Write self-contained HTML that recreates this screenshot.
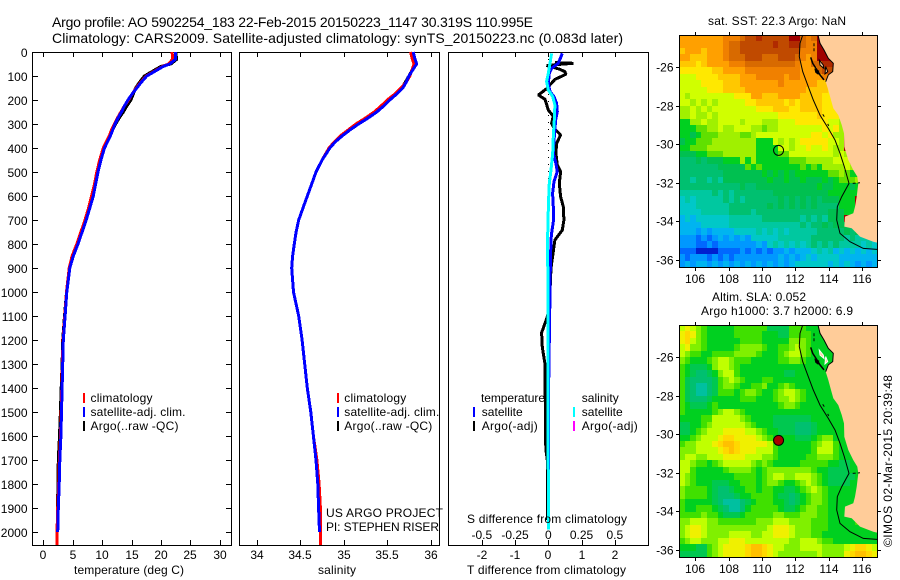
<!DOCTYPE html>
<html lang="en">
<head>
<meta charset="utf-8">
<title>Argo profile 5902254_183</title>
<style>
html,body{margin:0;padding:0;background:#fff;}
svg{display:block;}
text{font-family:"Liberation Sans",sans-serif;font-size:12px;fill:#000;}
.title{font-size:14px;}
</style>
</head>
<body>
<svg id="fig" xmlns="http://www.w3.org/2000/svg" width="900" height="580" viewBox="0 0 900 580">
<rect x="0" y="0" width="900" height="580" fill="#fff"/>
<text class="title" x="52" y="27" textLength="481">Argo profile: AO 5902254_183 22-Feb-2015 20150223_1147 30.319S 110.995E</text>
<text class="title" x="52" y="43" textLength="571">Climatology: CARS2009. Satellite-adjusted climatology: synTS_20150223.nc (0.083d later)</text>
<g id="maps"></g>
<g id="profiles"></g>

<text x="74" y="574" textLength="110">temperature (deg C)</text>
<text x="318" y="574" textLength="38">salinity</text>
<text x="467" y="574" textLength="159">T difference from climatology</text>
<text x="467" y="523" textLength="160">S difference from climatology</text>

<g>
<rect x="83" y="393" width="2" height="10" fill="#f00"/>
<rect x="83" y="407" width="2" height="10" fill="#00f"/>
<rect x="83" y="421" width="2" height="10" fill="#000"/>
<text x="90.5" y="402" textLength="62">climatology</text>
<text x="90.5" y="416" textLength="95">satellite-adj. clim.</text>
<text x="90.5" y="430" textLength="88">Argo(..raw -QC)</text>
</g>
<g>
<rect x="337" y="393" width="2" height="10" fill="#f00"/>
<rect x="337" y="407" width="2" height="10" fill="#00f"/>
<rect x="337" y="421" width="2" height="10" fill="#000"/>
<text x="344.3" y="402" textLength="62">climatology</text>
<text x="344.3" y="416" textLength="95">satellite-adj. clim.</text>
<text x="344.3" y="430" textLength="88">Argo(..raw -QC)</text>
<text x="326" y="517" textLength="117">US ARGO PROJECT</text>
<text x="326" y="531" textLength="113">PI: STEPHEN RISER</text>
</g>
<g>
<text x="481" y="402" textLength="64">temperature</text>
<rect x="473" y="407" width="2" height="10" fill="#00f"/>
<rect x="473" y="421" width="2" height="10" fill="#000"/>
<text x="481.7" y="416" textLength="41">satellite</text>
<text x="481.7" y="430" textLength="56">Argo(-adj)</text>
<text x="581.7" y="402" textLength="37">salinity</text>
<rect x="573" y="407" width="2" height="10" fill="#0ff"/>
<rect x="573" y="421" width="2" height="10" fill="#f0f"/>
<text x="581.7" y="416" textLength="41">satellite</text>
<text x="581.7" y="430" textLength="56">Argo(-adj)</text>
</g>

<text x="708" y="25" textLength="138">sat. SST: 22.3 Argo: NaN</text>
<text x="712" y="301" textLength="94">Altim. SLA: 0.052</text>
<text x="701" y="315" textLength="152">Argo h1000: 3.7 h2000: 6.9</text>
<text transform="translate(892,547) rotate(-90)" x="0" y="0" textLength="172">©IMOS 02-Mar-2015 20:39:48</text>
</svg>

<script>
// ---------- profile data ----------
const depths = [0,30,50,60,100,125,150,175,200,225,250,275,300,325,350,375,400,450,500,550,600,650,700,750,800,850,900,1000,1100,1200,1300,1400,1500,1600,1700,1800,1900,2000,2054];
const tempArgo = [22.5,22.7,21.7,20.0,17.2,16.4,15.7,15.3,14.9,14.2,13.6,12.9,12.3,11.8,11.3,10.8,10.3,9.7,9.2,8.8,8.3,7.8,7.2,6.5,5.8,5.0,4.4,3.95,3.6,3.3,3.2,3.05,2.9,2.75,2.55,2.5,2.4];
const tempClim = [21.9,22.0,21.3,20.3,17.5,16.6,15.8,15.1,14.5,13.8,13.2,12.6,12.1,11.6,11.2,10.7,10.2,9.6,9.1,8.7,8.2,7.7,7.1,6.4,5.7,4.9,4.4,3.95,3.65,3.35,3.25,3.15,3.05,2.92,2.72,2.62,2.45,2.33,2.33];
const tempSat = [22.5,22.5,21.5,20.4,17.6,16.7,15.9,15.1,14.4,13.8,13.3,12.7,12.2,11.8,11.4,10.9,10.4,9.8,9.3,8.9,8.5,7.9,7.3,6.6,5.9,5.1,4.5,4.0,3.7,3.4,3.3,3.2,3.1,3.0,2.8,2.7,2.55,2.45];
const salArgo = [35.80,35.82,35.83,35.81,35.75,35.71,35.67,35.60,35.52,35.45,35.37,35.27,35.16,35.06,34.97,34.90,34.84,34.75,34.68,34.63,34.58,34.53,34.48,34.45,34.43,34.41,34.40,34.42,34.48,34.52,34.55,34.58,34.62,34.65,34.68,34.70,34.71];
const salClim = [35.77,35.79,35.81,35.80,35.76,35.72,35.66,35.59,35.50,35.43,35.35,35.25,35.14,35.05,34.96,34.89,34.83,34.75,34.68,34.63,34.58,34.53,34.48,34.45,34.43,34.41,34.40,34.42,34.48,34.52,34.55,34.58,34.62,34.65,34.69,34.715,34.73,34.73,34.73];
const salSat = [35.80,35.82,35.84,35.82,35.75,35.72,35.68,35.61,35.53,35.46,35.38,35.28,35.17,35.07,34.98,34.90,34.84,34.75,34.68,34.63,34.58,34.53,34.48,34.45,34.43,34.41,34.40,34.42,34.48,34.52,34.55,34.58,34.62,34.65,34.68,34.70,34.71,34.72];

const tDiffSatDepths = [6,47,68,89,130,165,186,214,249,283,325,367,422,464,499,540,589,644,707,756,783,900,1000,1200,1400,1600,1800,1990];
const tDiffSat = [.42,.30,.10,.03,0,.05,.17,.25,.27,.22,.20,.17,.15,.23,.27,.17,.13,.15,.15,.10,.08,.06,.05,.03,.01,.01,0,0];
const sDiffSatDepths = [6,47,89,123,158,186,221,283,353,422,492,547,617,700,783,1000,1400,1800,1990];
const sDiffSat = [.025,.0125,0,-.0125,0,.033,.05,.045,.0375,.033,.02,.0075,.0025,-.0025,-.005,-.003,-.002,0,0];
const tDiffArgoDepths = [44,47,56,64,72,82,93,114,137,151,179,197,228,242,267,297,318,346,381,422,471,499,547,603,644,700,742,783,900,1000,1100,1170,1230,1300,1400,1500,1600,1660,1700,1950];
const tDiffArgo = [.2,.75,-.05,.15,.35,.5,.53,.2,.05,-.03,-.3,-.1,-.03,0,.15,.1,.17,.37,.25,.23,.27,.37,.33,.37,.45,.47,.42,.2,.08,.05,-.02,-.2,-.18,-.1,-.1,-.08,-.09,-.07,-.03,-.02];

// ---------- axis tick values ----------
const depthTicks = [0,100,200,300,400,500,600,700,800,900,1000,1100,1200,1300,1400,1500,1600,1700,1800,1900,2000];
const tempTicks = [0,5,10,15,20,25,30];
const salTicks = [34,34.5,35,35.5,36];
const tDiffTicks = [-2,-1,0,1,2];
const sDiffTicks = [-0.5,-0.25,0,0.25,0.5];
const lonTicks = [106,108,110,112,114,116];
const latTicks = [-26,-28,-30,-32,-34,-36];

// ---------- map data (lon/lat degrees, grid = palette index per cell, north to south) ----------
const floatLon = 110.995;
const floatLat = -30.319;
const coastLon = [113.36,113.48,113.72,113.98,114.28,114.24,113.98,113.82,113.98,114.14,114.28,114.58,114.78,114.92,114.94,115.18,115.48,115.72,115.78,115.68,115.58,115.48,114.98,114.94,115.38,115.88,116.68,116.9];
const coastLat = [-24.34,-24.77,-25.12,-25.55,-25.81,-26.24,-26.41,-26.76,-27.19,-27.71,-28.14,-28.49,-29.0,-29.44,-30.13,-30.82,-31.34,-31.68,-32.03,-32.72,-33.24,-33.58,-33.75,-34.27,-34.36,-34.79,-35.05,-35.10];
const isobathLon = [112.44,112.28,112.24,112.44,112.78,113.08,113.48,113.98,114.38,114.68,114.94,115.22,114.78,114.52,114.48,114.68,115.28,116.08,116.9];
const isobathLat = [-24.34,-24.77,-25.46,-26.24,-27.02,-27.71,-28.49,-29.18,-29.78,-30.47,-31.16,-32.03,-32.72,-33.24,-33.93,-34.62,-35.05,-35.40,-35.45];
const islandLon = [[113.44,113.68,113.72,113.48],[113.82,113.94,113.78]];
const islandLat = [[-25.64,-25.90,-26.07,-25.90],[-25.98,-26.24,-26.36]];
const bayLineLon = [112.92,113.04,113.24,113.48,113.72];
const bayLineLat = [-25.5,-25.81,-26.07,-26.41,-26.67];
const bayBlobLon = [113.14,113.44,113.38,113.2];
const bayBlobLat = [-26.07,-26.19,-26.41,-26.29];
const dashLon = [[113.12,113.12],[113.64,113.74],[113.94,114.0],[115.44,115.88]];
const dashLat = [[-24.77,-25.2],[-28.45,-28.57],[-28.95,-29.05],[-32.03,-32.0]];

const sstGrid = [
"eeeeeeee fff g hh i hhhhh jj gfg jjjjjjjjjjj",
"eeeeeeee f gg hhhhhh i hh ii g ff jjjjjjjjjjj",
"deeedeee f gg hhhhhhhhhhh fff jjjjjjjjjjj",
"eedddeee f ggg hhh ggg hhh g f e f jjjjjjjjjjj",
"dddcd eeee fff ggggggggg f ee gg ii jjjjjjjj",
"cccccc dd eeee ffffffffff eee g hh jjjjjjjj",
"bbb cccc dddd eee fffff e ff eeee ff jjjjjjjj",
"bbbb cccc ddd eeeeeee f eeeeee ddd jjjjjjjj",
"bbbbb ccc dddd eeeeeeeeeee dddd c jjjjjjjj",
"ba bbbbbbbb ccc ee ddd eeee dddd ccc jjjjjjj",
"bbababab bbbb cc ddddd c d c dddd ccc jjjjjjj",
"aababab bbbbbbb ccc ddd cc dddd ccc b jjjjjj",
"aabaabab bbbbbbbbbb ccccccc d ccc b jjjjjj",
"88 aabaab bbb a bbb aaa bbb cccccc bb a jjjjjj",
"888 99 aab aab bb aa 9 aa bbbbbbbb cb c a jjjjjj",
"8878 999 aaaa 99 a bbbbbbbbbb ccbc aa jjjjjj",
"788 999 aaaaaaaa 888 babab ccccc bb a jjjjjj",
"88 999 aaaa aaaaa 8888 bbab bcbbcb aa jjjjjj",
"777 88 999 aaaaaa 8888 99 bbbbbbb bab a jjjjj",
"66676 777 888 a8a8 88888 999 aaaaa bbb jjjjj",
"6666666 77777 989 888888 89898 aaaa ba jjjj",
"66666666 777777 7878787 888888 99a9 88 jjj",
"66566565 7777777 7877877877787 899 9a jjj",
"6666666 6666766 7777777 7777877 888 78 jjj",
"55555 56565 6666666 7777777777 8888 88 jjj",
"454 55555 65656 66666 76767676 777 888 jjjj",
"444 555555 666666 6767676767 6666 888 jjjj",
"4444 55555 666656 6666 66666666 777 88 jjjj",
"3434 44444 555555 6666666 56565 777 jjjjjj",
"3333 44444 55555 5555555 5656 6767 77 jjjjj",
"333 2323 333 4444 5454545 5555 66666 767 jjj",
"22 21212 323232 44444 555555 66666 6565 55j",
"222 1121 222222 232 4545454 565656 5555 454",
"111 0000 1111 2121212 232 333 4545 34343434",
"21 22212 1212 222222 23232 343 4444 3333333",
"2323 32323232323232323 44444 43434 32323"
];
const slaGrid = [
"67654 33333 444444 2222 444 33 33333333333",
"78754 33333 44444 33322 4444 3 33333333333",
"78654 33333 34444 33333 5554 3 33333333333",
"67554 33333 45555 43344 5654 3 33333333333",
"65443 34444 55554 33345 6654 3 33333333333",
"54333 45665 44433 33344 5543 3 33333333333",
"43222 35665 43333 33333 3333 3 33333333333",
"43211 23566 43333 33332 2333 3 33333333333",
"42111 12456 54333 44333 3333 3 33333333333",
"42100 12455 43344 53345 4333 3 33333333333",
"42100 12444 34554 33456 6543 3 33333333333",
"42111 23333 34443 33455 6543 33 3333333333",
"43222 34333 33333 33345 5433 33 3333333333",
"43333 34566 54333 33333 3333 3333 33333333",
"33334 46666 65433 33222 2222 3333 33333333",
"22334 56666 66543 33222 2111 2333 33333333",
"22345 66677 77665 43322 2111 2333 33333333",
"33456 66788 77776 54333 3222 3455 33 333333",
"45566 67899 87777 76433 3333 4566 43 333333",
"55566 66789 87776 66433 3333 4666 43 333333",
"56655 66677 77666 55433 3334 4555 433 33333",
"66544 34566 66654 54333 3344 4443 322 33333",
"66433 33345 55543 45555 5555 4332 222 33333",
"65433 33333 44443 45665 5666 5432 2222 3333",
"65433 32223 34443 45543 3456 5432 2223 3333",
"54444 32112 33443 44332 2345 6543 3333 3333",
"54444 32111 23344 44322 1234 5543 3333 3333",
"43333 32100 01234 44332 1234 5543 3333 3333",
"43344 43210 01344 44432 2345 5443 33 333333",
"44445 44322 23444 44554 4455 5443 33 333333",
"55666 55444 44445 55666 5555 4443 3333 4333",
"56776 55555 55555 56777 6555 4443 3333 3333",
"56776 55556 66655 66777 6555 4433 3333 3333",
"45665 55667 77666 66666 5566 6544 3333 3333",
"33322 45677 77899 87665 5566 6655 55 6788 76",
"22222 45677 77899 87655 5555 5655 55 7899 87"
];
const sstPalette = ["#0020d0","#0068ff","#0098ff","#00b4f0","#00c8c8","#00c8a0","#00c070","#00c050","#00d020","#60e000","#a0f000","#d0ff00","#ffe800","#ffc800","#ffa000","#f08000","#d86a00","#c04a00","#b02a00","#a00000"];
const slaPalette = ["#00c0a0","#00c070","#00c850","#00d020","#40e000","#80f000","#c0ff00","#f0f000","#ffd800","#ffc000"];

// ---------- helpers ----------
const NS = "http://www.w3.org/2000/svg";
function svgEl(tag, attrs, parent){
  const e = document.createElementNS(NS, tag);
  for (const k in attrs) e.setAttribute(k, attrs[k]);
  parent.appendChild(e);
  return e;
}
const profilesG = document.getElementById("profiles");
const mapsG = document.getElementById("maps");

// ---------- profile axes ----------
const panelTop = 52, panelBottom = 545;
const depthY = d => panelTop + d * 0.24;
const tempX = t => 43.3 + 5.88 * t;
const salX = s => 257 + 86.8 * (s - 34);
const tDiffX = t => 548.3 + 33.25 * t;
const sDiffX = s => 548.3 + 133 * s;

function drawFrame(left, right, name){
  const f = svgEl("rect", {x:left+.5, y:panelTop+.5, width:right-left, height:panelBottom-panelTop, fill:"none", stroke:"#000", "stroke-width":1, "shape-rendering":"crispEdges"}, profilesG);
  
  
}
function drawXTicks(ticks, scale, labelY, fmt, name){
  ticks.forEach(v => {
    const x = Math.round(scale(v)) + .5;
    const a = svgEl("line", {x1:x, x2:x, y1:panelTop, y2:panelTop+5, stroke:"#000", "shape-rendering":"crispEdges"}, profilesG);
    
    
    const b = svgEl("line", {x1:x, x2:x, y1:panelBottom, y2:panelBottom-5, stroke:"#000", "shape-rendering":"crispEdges"}, profilesG);
    
    
    const t = svgEl("text", {x:x-.5, y:labelY, "text-anchor":"middle"}, profilesG);
    t.textContent = fmt(v);
    
    
  });
}
function drawSeries(depthArr, valueArr, scale, color, width, name){
  const n = Math.min(depthArr.length, valueArr.length);
  const pts = [];
  for (let i = 0; i < n; i++) pts.push(scale(valueArr[i]).toFixed(1) + "," + depthY(depthArr[i]).toFixed(1));
  const p = svgEl("polyline", {points:pts.join(" "), fill:"none", stroke:color, "stroke-width":width, "stroke-linejoin":"bevel", "shape-rendering":"crispEdges"}, profilesG);
  
  
}

drawFrame(32, 231, "temperature-panel-frame");
drawFrame(239, 439, "salinity-panel-frame");
drawFrame(448, 648, "difference-panel-frame");

depthTicks.forEach(d => {
  const y = Math.round(depthY(d)) + .5;
  const l = svgEl("line", {x1:32, x2:38, y1:y, y2:y, stroke:"#000", "shape-rendering":"crispEdges"}, profilesG);
  
  
  const r = svgEl("line", {x1:226, x2:232, y1:y, y2:y, stroke:"#000", "shape-rendering":"crispEdges"}, profilesG);
  
  
  const t = svgEl("text", {x:27.5, y:y+4.5, "text-anchor":"end"}, profilesG);
  t.textContent = String(d);
  
  
});

drawXTicks(tempTicks, tempX, 559, v => String(v), "temperature");
drawXTicks(salTicks, salX, 559, v => String(v), "salinity");
drawXTicks(tDiffTicks, tDiffX, 559, v => String(v), "t-difference");

sDiffTicks.forEach(v => {
  const t = svgEl("text", {x:sDiffX(v), y:539, "text-anchor":"middle"}, profilesG);
  t.textContent = String(v);
  
  
});

const zeroLine = svgEl("line", {x1:tDiffX(0), x2:tDiffX(0), y1:panelTop, y2:240, stroke:"#000", "stroke-width":1, "stroke-dasharray":"1 6", "shape-rendering":"crispEdges"}, profilesG);



drawSeries(depths, tempArgo, tempX, "#000", 3, "temperature-argo-line");
drawSeries(depths, tempClim, tempX, "#f00", 3, "temperature-climatology-line");
drawSeries(depths, tempSat, tempX, "#00f", 3, "temperature-satellite-line");
drawSeries(depths, salArgo, salX, "#000", 3, "salinity-argo-line");
drawSeries(depths, salClim, salX, "#f00", 3, "salinity-climatology-line");
drawSeries(depths, salSat, salX, "#00f", 3, "salinity-satellite-line");
drawSeries(tDiffArgoDepths, tDiffArgo, tDiffX, "#000", 3, "t-difference-argo-line");
drawSeries(tDiffSatDepths, tDiffSat, tDiffX, "#00f", 3, "t-difference-satellite-line");
drawSeries(sDiffSatDepths, sDiffSat, sDiffX, "#0ff", 3, "s-difference-satellite-line");

// ---------- maps ----------
const mapLeft = 679, mapRight = 877;
const lonX = lon => 695.3 + (lon - 106) * 16.67;
function pathFrom(lons, lats, latY, close){
  return lons.map((v, i) => (i ? "L" : "M") + lonX(v).toFixed(1) + " " + latY(lats[i]).toFixed(1)).join(" ") + (close ? " Z" : "");
}
function drawMap(top, bottom, grid, palette, prefix, isSla){
  const latY = lat => top + 32 + (-26 - lat) * 19.3;
  const g = svgEl("g", {}, mapsG);
  
  
  const cols = 36, rows = grid.length;
  const cw = (mapRight - mapLeft) / cols, ch = (bottom - top) / rows;
  grid.forEach((rowStr, r) => {
    const cells = rowStr.replace(/ /g, "");
    for (let c = 0; c < cols && c < cells.length; c++) {
      const x0 = Math.round(mapLeft + c * cw), x1 = Math.round(mapLeft + (c + 1) * cw);
      const y0 = Math.round(top + r * ch), y1 = Math.round(top + (r + 1) * ch);
      const cell = svgEl("rect", {x:x0, y:y0, width:x1-x0, height:y1-y0, fill:palette[parseInt(cells[c], 36)], "shape-rendering":"crispEdges"}, g);
      
      
    }
  });
  // land
  const landLons = coastLon.concat([116.9, 113.36]);
  const landLats = coastLat.concat([-24.34, -24.34]);
  const land = svgEl("path", {d:pathFrom(landLons, landLats, latY, true), fill:"#ffcc99"}, g);
  
  
  // Shark Bay outline (first part of the coast)
  const bayOutline = svgEl("path", {d:pathFrom(coastLon.slice(0,8), coastLat.slice(0,8), latY, false), fill:"none", stroke:"#000", "stroke-width":1}, g);
  
  
  islandLon.forEach((lons, i) => {
    const isl = svgEl("path", {d:pathFrom(lons, islandLat[i], latY, true), fill:"#ffcc99", stroke:isSla ? "#fff" : "#000", "stroke-width":1}, g);
    
    
  });
  const line = svgEl("path", {d:pathFrom(bayLineLon, bayLineLat, latY, false), fill:"none", stroke:"#000", "stroke-width":1.5}, g);
  
  
  const blob = svgEl("path", {d:pathFrom(bayBlobLon, bayBlobLat, latY, true), fill:"#000"}, g);
  
  
  dashLon.forEach((lons, i) => {
    const dash = svgEl("path", {d:pathFrom(lons, dashLat[i], latY, false), fill:"none", stroke:"#000", "stroke-width":1, "stroke-dasharray":"3 2"}, g);
    
    
  });
  const iso = svgEl("path", {d:pathFrom(isobathLon, isobathLat, latY, false), fill:"none", stroke:"#000", "stroke-width":1}, g);
  
  
  // float position
  const dot = svgEl("circle", {cx:lonX(floatLon), cy:latY(floatLat), r:5, fill:isSla ? "#a80000" : "none", stroke:"#000", "stroke-width":1}, g);
  
  
  // frame
  const frame = svgEl("rect", {x:mapLeft+.5, y:top+.5, width:mapRight-mapLeft, height:bottom-top, fill:"none", stroke:"#000", "shape-rendering":"crispEdges"}, g);
  
  
  // ticks
  lonTicks.forEach(v => {
    const x = Math.round(lonX(v)) + .5;
    const a = svgEl("line", {x1:x, x2:x, y1:top-3, y2:top, stroke:"#000", "shape-rendering":"crispEdges"}, g);
    
    
    const b = svgEl("line", {x1:x, x2:x, y1:bottom+1, y2:bottom+4, stroke:"#000", "shape-rendering":"crispEdges"}, g);
    
    
    const t = svgEl("text", {x:x-.5, y:bottom+16, "text-anchor":"middle"}, g);
    t.textContent = String(v);
    
    
  });
  latTicks.forEach(v => {
    const y = Math.round(latY(v)) + .5;
    const a = svgEl("line", {x1:mapLeft-3, x2:mapLeft, y1:y, y2:y, stroke:"#000", "shape-rendering":"crispEdges"}, g);
    
    
    const b = svgEl("line", {x1:mapRight+1, x2:mapRight+4, y1:y, y2:y, stroke:"#000", "shape-rendering":"crispEdges"}, g);
    
    
    const t = svgEl("text", {x:673.5, y:y+4, "text-anchor":"end"}, g);
    t.textContent = String(v);
    
    
  });
}
drawMap(35, 267, sstGrid, sstPalette, "sst", false);
drawMap(325, 557, slaGrid, slaPalette, "sla", true);
</script>
</body>
</html>
